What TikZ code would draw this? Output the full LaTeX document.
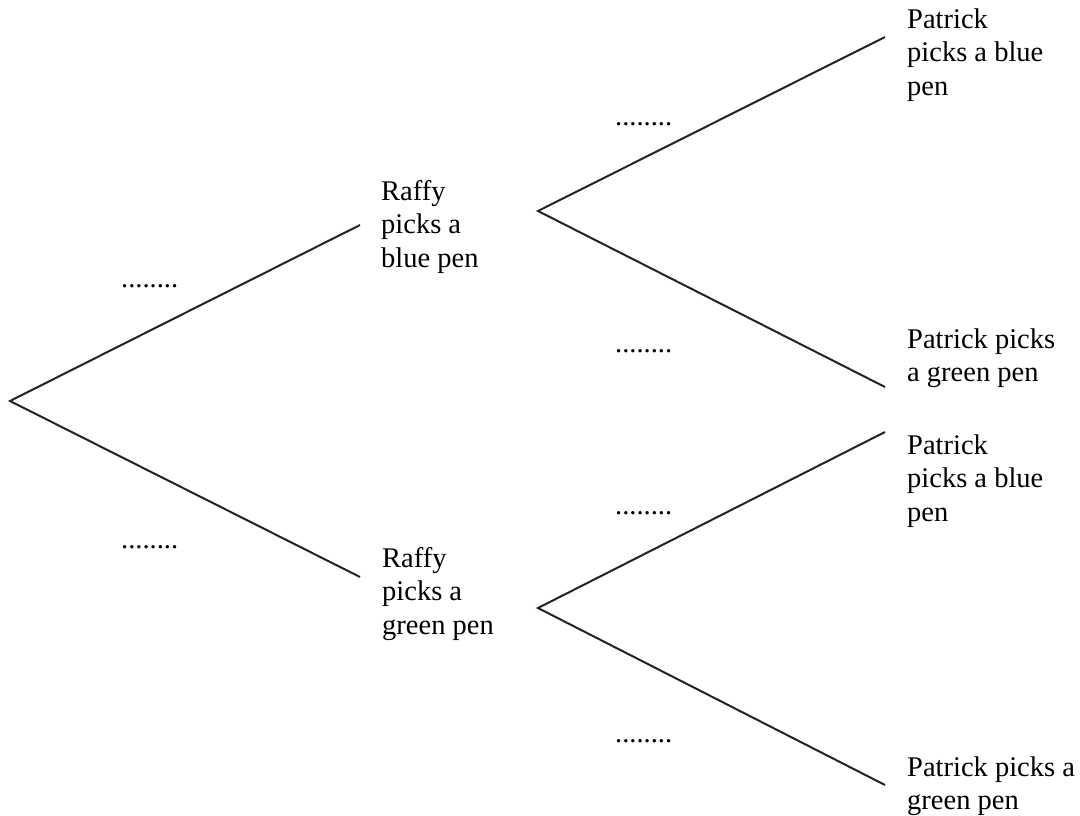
\documentclass[tikz,border=0pt]{standalone}
\usepackage{fontspec}
\setmainfont{Liberation Serif}
\newfontfamily\tnr{Liberation Serif}
\begin{document}
\begin{tikzpicture}[x=1pt,y=-1pt,
  branch/.style={line width=2pt,draw={rgb,255:red,35;green,35;blue,35}},
  lbl/.style={anchor=north west,inner sep=0pt,align=left,font=\tnr\fontsize{28.5}{33.5}\selectfont},
  dots/.style={anchor=base west,inner sep=0pt,font=\tnr\fontsize{28.5}{33.5}\selectfont}]
\useasboundingbox (0,0) rectangle (1080,816);
% branch points
\coordinate (root) at (10,401);
\coordinate (rb) at (360,225);
\coordinate (rg) at (360,577);
\coordinate (b1) at (538,211);
\coordinate (b2) at (538,608);
\coordinate (p1) at (885,37);
\coordinate (p2) at (885,387);
\coordinate (p3) at (885,432);
\coordinate (p4) at (885,785);
% branches
\draw[branch] (rb) -- (root) -- (rg);
\draw[branch] (p1) -- (b1) -- (p2);
\draw[branch] (p3) -- (b2) -- (p4);
% labels (first baseline minus strut height 23.45)
\node[lbl] (lrb) at (381,176.5) {\strut Raffy\\picks a\\blue pen};
\node[lbl] (lrg) at (382,543.5) {\strut Raffy\\picks a\\green pen};
\node[lbl] (lp1) at (907,4.5) {\strut Patrick\\picks a blue\\pen};
\node[lbl] (lp2) at (907,324.5) {\strut Patrick picks\\a green pen};
\node[lbl] (lp3) at (907,430.5) {\strut Patrick\\picks a blue\\pen};
\node[lbl] (lp4) at (907,752.5) {\strut Patrick picks a\\green pen};
% probability blanks
\node[dots] (d1) at (121,287) {........};
\node[dots] (d2) at (121,548) {........};
\node[dots] (d3) at (615,125) {........};
\node[dots] (d4) at (615,352) {........};
\node[dots] (d5) at (615,514) {........};
\node[dots] (d6) at (615,742) {........};
\end{tikzpicture}
\end{document}
